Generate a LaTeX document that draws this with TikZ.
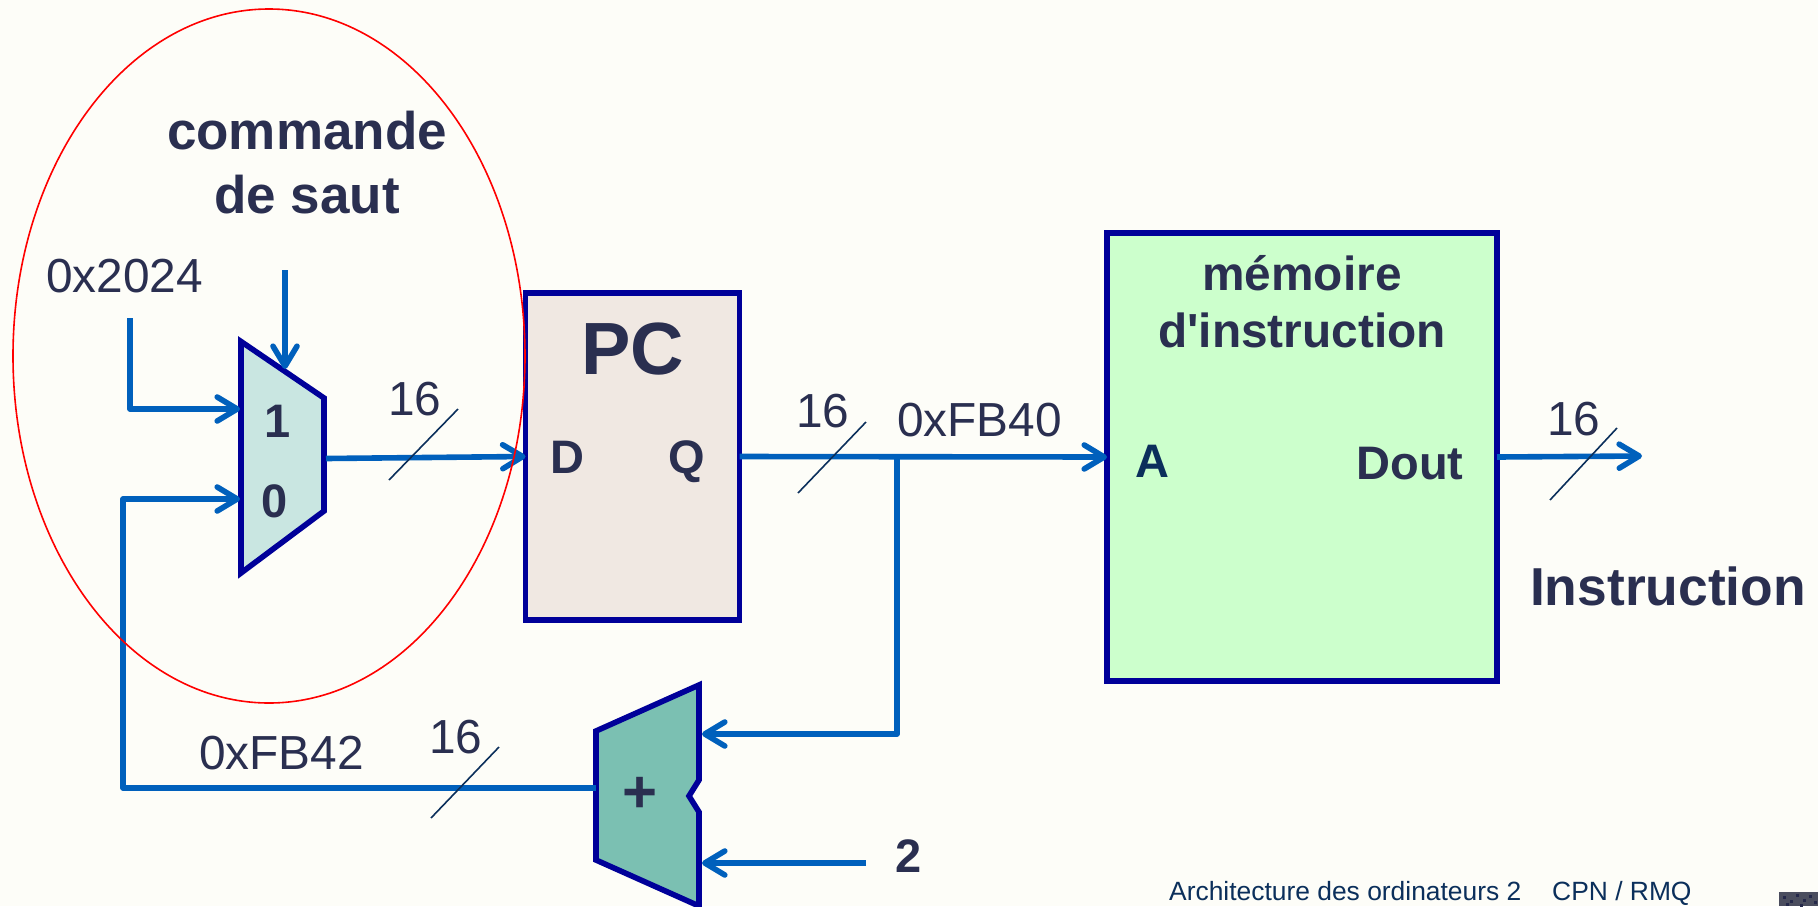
\documentclass[tikz,border=0pt]{standalone}
\usepackage{fontspec}
\setmainfont{Liberation Sans}
\newfontfamily\rawsans{Liberation Sans}
\usetikzlibrary{arrows.meta}
\definecolor{bgc}{HTML}{FDFDF8}
\definecolor{boxline}{HTML}{000099}
\definecolor{wire}{HTML}{0060BC}
\definecolor{ink}{HTML}{2A2F50}
\definecolor{navyink}{HTML}{0B2F5B}
\definecolor{muxfill}{HTML}{C9E6E1}
\definecolor{addfill}{HTML}{7BC0B2}
\definecolor{pcfill}{HTML}{F0E8E2}
\definecolor{memfill}{HTML}{CCFFCC}
\definecolor{cornergrey}{HTML}{4A4D5E}
\definecolor{cornerdark}{HTML}{24284A}
\newcommand{\fsz}[1]{\fontsize{#1}{#1}\selectfont}
\tikzset{
  wireline/.style={draw=wire,line width=5.6pt,line join=round},
  wirearrow/.style={wireline,-{Straight Barb[length=20pt,width=24pt,round]}},
  unitbox/.style={draw=boxline,line width=5.6pt,inner sep=0pt,outer sep=0pt},
  unitshape/.style={draw=boxline,line width=5.6pt,line join=miter},
  slashmark/.style={draw=navyink,line width=1.6pt},
  plain/.style={anchor=base west,inner sep=0pt,text=ink,font=\fsz{47.8}},
  strong/.style={anchor=base,inner sep=0pt,text=ink,font=\fsz{47}\bfseries},
}
\begin{document}
\begin{tikzpicture}[x=1pt,y=-1pt]
\useasboundingbox (0,0) rectangle (1818,906);
\fill[bgc] (0,0) rectangle (1818,906);

% units
\node[unitbox,fill=pcfill,minimum width=214pt,minimum height=327pt] (pc) at (632.5,456.5) {};
\node[unitbox,fill=memfill,minimum width=390pt,minimum height=448pt] (mem) at (1302,457) {};
\coordinate (muxA) at (241,341.5);
\coordinate (muxB) at (324,398);
\coordinate (muxC) at (324,511);
\coordinate (muxD) at (241,573);
\fill[muxfill] (muxA) -- (muxB) -- (muxC) -- (muxD) -- cycle;
\draw[unitshape] (muxA) -- (muxB) -- (muxC) -- (muxD) -- cycle;
\coordinate (addA) at (596,731);
\coordinate (addB) at (699,685);
\coordinate (addC) at (699,780);
\coordinate (addD) at (689,796);
\coordinate (addE) at (699,812);
\coordinate (addF) at (699,906);
\coordinate (addG) at (596,860);
\fill[addfill] (addA) -- (addB) -- (addC) -- (addD) -- (addE) -- (addF) -- (addG) -- cycle;
\draw[unitshape] (addA) -- (addB) -- (addC) -- (addD) -- (addE) -- (addF) -- (addG) -- cycle;

% wire end points
\coordinate (in1s) at (130,318);
\coordinate (in1c) at (130,409);
\coordinate (in1e) at (240,409);
\coordinate (sel) at (285,270);
\coordinate (sele) at (285,369);
\coordinate (muxout) at (326,458.5);
\coordinate (in0c) at (123,499);
\coordinate (in0e) at (240,499);
\coordinate (addout) at (596,788);
\coordinate (addoutc) at (123,788);
\coordinate (branch) at (897,459);
\coordinate (branchc) at (897,734);
\coordinate (addin1) at (702,734);
\coordinate (two) at (866,863);
\coordinate (addin2) at (702,863);
\coordinate (outend) at (1642,456);

% wires
\draw[wirearrow] (in1s) -- (in1c) -- (in1e);
\draw[wirearrow] (sel) -- (sele);
\draw[wirearrow] (muxout) -- (pc.west);
\draw[wirearrow] (pc.east) -- (mem.west);
\draw[wirearrow] (branch) -- (branchc) -- (addin1);
\draw[wirearrow] (addout) -- (addoutc) -- (in0c) -- (in0e);
\draw[wirearrow] (two) -- (addin2);
\draw[wirearrow] (mem.east) -- (outend);

% bus slashes
\coordinate (s1a) at (389,480); \coordinate (s1b) at (458,409);
\coordinate (s2a) at (798,493); \coordinate (s2b) at (866,422);
\coordinate (s3a) at (431,818); \coordinate (s3b) at (499,747);
\coordinate (s4a) at (1550,500); \coordinate (s4b) at (1617,428);
\draw[slashmark] (s1a) -- (s1b);
\draw[slashmark] (s2a) -- (s2b);
\draw[slashmark] (s3a) -- (s3b);
\draw[slashmark] (s4a) -- (s4b);

% plain labels
\node[plain] (t2024) at (46,292) {0x2024};
\node[plain] (t16a) at (388,415) {16};
\node[plain] (t16b) at (796,427) {16};
\node[plain] (tfb40) at (897,436) {0xFB40};
\node[plain] (t16c) at (1547,435) {16};
\node[plain] (t16d) at (429,753) {16};
\node[plain] (tfb42) at (199,769) {0xFB42};

% bold labels
\node[strong,font=\fsz{53}\bfseries] (cmd1) at (307,149) {commande};
\node[strong,font=\fsz{53}\bfseries] (cmd2) at (307,213) {de saut};
\node[strong] (m1) at (278,437) {1};
\node[strong] (m0) at (275,517) {0};
\node[strong,font=\fsz{74}\bfseries] (pclab) at (633,374) {PC};
\node[strong] (dlab) at (567,473) {D};
\node[strong] (qlab) at (687,473) {Q};
\node[strong,font=\fsz{47.8}\bfseries] (mem1) at (1302,290) {mémoire};
\node[strong,font=\fsz{47.8}\bfseries] (mem2) at (1302,347) {d{\rawsans\bfseries\char39}instruction};
\node[strong,text=navyink] (alab) at (1152,477) {A};
\node[strong] (dout) at (1410,479) {Dout};
\node[strong,font=\fsz{53.4}\bfseries] (instr) at (1668,605) {Instruction};
\node[strong,font=\fsz{60}\bfseries] (plus) at (640,812) {+};
\node[strong] (tw) at (909,872) {2};

% footer
\node[anchor=base west,inner sep=0pt,text=navyink,font=\fsz{26.4}] (foot1) at (1169,900) {Architecture des ordinateurs 2};
\node[anchor=base west,inner sep=0pt,text=navyink,font=\fsz{26.4}] (foot2) at (1552,900) {CPN / RMQ};

% corner speckle
\fill[cornergrey] (1779,892) rectangle (1818,906);
\foreach \px/\py in {1783/896,1790/900,1796/894,1803/899,1809/895,1814/901,1786/903,1800/904}
  \fill[cornerdark] (\px,\py) rectangle ++(3,3);

% red ellipse
\draw[red,line width=1.6pt] (269,356) ellipse [x radius=256pt,y radius=347pt];
\end{tikzpicture}
\end{document}
